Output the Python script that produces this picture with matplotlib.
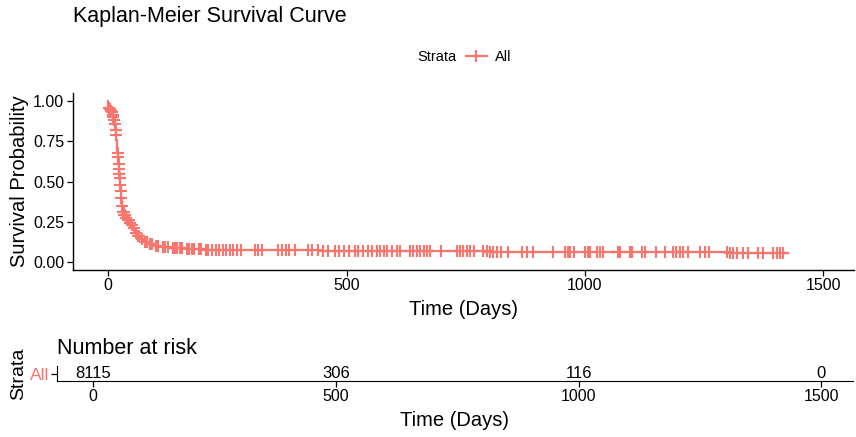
import numpy as np
import matplotlib
matplotlib.use("Agg")
import matplotlib.pyplot as plt
from matplotlib.lines import Line2D

plt.rcParams['font.family'] = ['Liberation Sans', 'DejaVu Sans']

# Kaplan-Meier step curve (time in days, survival after that time)
km_time = [0, 0.5, 2, 4, 6, 8, 10, 12, 14, 15, 16, 17, 18, 19, 20, 21, 22, 23, 24, 25, 26,
           27, 28, 30, 33, 36, 40, 44, 48, 52, 56, 60, 66, 74, 84, 96, 110, 130, 160,
           200, 260, 340, 450, 600, 800, 1000, 1150, 1300, 1426]
km_surv = [1.0, 0.955, 0.95, 0.94, 0.93, 0.915, 0.90, 0.88, 0.86, 0.82, 0.79, 0.76, 0.72,
           0.68, 0.65, 0.61, 0.58, 0.55, 0.52, 0.48, 0.44, 0.40, 0.35, 0.31, 0.29,
           0.275, 0.26, 0.245, 0.23, 0.21, 0.18, 0.16, 0.14, 0.125, 0.11, 0.10, 0.092,
           0.086, 0.081, 0.077, 0.074, 0.072, 0.070, 0.068, 0.065, 0.062, 0.060, 0.057,
           0.055]

# censoring times (marks drawn on the curve)
censor_times = [1, 3, 5, 7, 9, 11, 13, 14.5, 15.5, 16.5, 19.5, 20.5, 21.5, 22.5, 23.5,
                24.5, 25.5, 26.5, 27.5, 29, 31, 32, 34, 35, 38, 41, 43, 46, 50, 54, 58,
                62, 64, 70, 78, 82, 88, 92, 100, 105, 115, 120, 125, 135, 140, 145, 150,
                155, 165, 170, 175, 180, 190, 195, 205, 210, 218, 225, 232, 240, 248,
                255, 262, 270, 278, 308, 315, 322, 356, 365, 372, 380, 392, 419, 428,
                440, 450, 461, 475, 485, 495, 505, 517, 524, 535, 545, 553, 563, 570,
                578, 584, 595, 605, 613, 633, 640, 647, 654, 662, 668, 675, 697, 731,
                738, 745, 752, 759, 767, 787, 794, 801, 808, 815, 823, 839, 867, 878,
                890, 934, 958, 964, 969, 976, 1000, 1006, 1011, 1025, 1031, 1038, 1070,
                1073, 1094, 1098, 1119, 1126, 1150, 1168, 1185, 1192, 1199, 1206, 1217,
                1241, 1252, 1261, 1297, 1304, 1311, 1318, 1332, 1343, 1364, 1373, 1395,
                1402, 1409, 1416]

risk_times = [0, 500, 1000, 1500]
risk_counts = ["8115", "306", "116", "0"]
strata = "All"

col = "#F8766D"

fig = plt.figure(figsize=(8.56, 4.37), dpi=100)

# main survival panel
ax = fig.add_axes([0.0847, 0.382, 0.9133, 0.405])
ax.step(km_time, km_surv, where="post", color=col, lw=1.6)
idx = np.searchsorted(km_time, censor_times, side="right") - 1
censor_surv = np.array(km_surv)[idx]
ax.plot(censor_times, censor_surv, ls="none", marker="+", ms=9, mew=1.5, color=col)
ax.set_xlim(-75, 1565)
ax.set_ylim(-0.05, 1.05)
ax.set_xticks([0, 500, 1000, 1500])
ax.set_yticks([0, 0.25, 0.5, 0.75, 1.0])
ax.set_yticklabels(["0.00", "0.25", "0.50", "0.75", "1.00"])
for s in ["top", "right"]:
    ax.spines[s].set_visible(False)
for s in ["left", "bottom"]:
    ax.spines[s].set_linewidth(1.0)
ax.tick_params(labelsize=11.5, length=4, width=0.9, colors="black", pad=2)
ax.set_xlabel("Time (Days)", fontsize=14.5, labelpad=5)
ax.set_ylabel("Survival Probability", fontsize=14.5, labelpad=3)

fig.text(0.0853, 0.962, "Kaplan-Meier Survival Curve", fontsize=15.5, va="center", ha="left")

# legend on top
fig.text(0.488, 0.869, "Strata", fontsize=10.5, va="center", ha="left")
handle = Line2D([], [], color=col, lw=1.6, marker="+", ms=9, mew=1.5)
ax.legend([handle], [strata], loc="center left", bbox_to_anchor=(0.536, 0.869),
          bbox_transform=fig.transFigure, frameon=False, fontsize=10.5,
          handlelength=1.4, handletextpad=0.6, borderpad=0)

# number at risk table
axr = fig.add_axes([0.0662, 0.128, 0.9303, 0.034])
for t, n in zip(risk_times, risk_counts):
    axr.text(t, 0.5, n, fontsize=12, ha="center", va="center")
axr.set_xlim(-75, 1565)
axr.set_ylim(0, 1)
axr.set_xticks([0, 500, 1000, 1500])
axr.set_yticks([0.5])
axr.set_yticklabels([strata])
axr.get_yticklabels()[0].set_color(col)
for s in ["top", "right"]:
    axr.spines[s].set_visible(False)
axr.tick_params(axis="x", labelsize=11.5, length=4, width=0.9, pad=2)
axr.tick_params(axis="y", labelsize=12.5, length=4, width=0.9, pad=1)
axr.set_xlabel("Time (Days)", fontsize=14.5, labelpad=5)
axr.set_ylabel("Strata", fontsize=14, labelpad=2)
axr.set_title("Number at risk", fontsize=15.5, loc="left", pad=9)

fig.savefig("out.png", dpi=100)
